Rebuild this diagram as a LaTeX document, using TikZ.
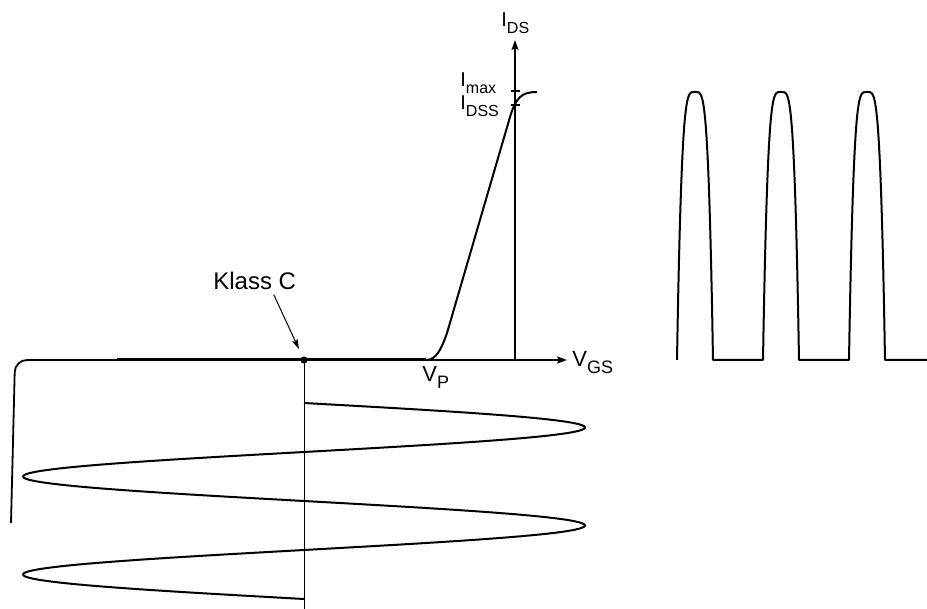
\documentclass[tikz,border=0pt]{standalone}
\usepackage{fontspec}
\setsansfont{Liberation Sans}
\usetikzlibrary{arrows.meta}
\newcommand{\lowsub}[2][8]{\raisebox{-3.5pt}{\fontsize{#1}{#1}\selectfont #2}}

\begin{document}
\begin{tikzpicture}[
	x=0.5pt, y=-0.5pt,
	% Line styles
	axis/.style={
		-{Stealth[length=5pt,width=3.5pt,inset=1pt]},
		line width=0.9pt
	},
	curve/.style={
		line width=1pt,
		line join=round
	},
	thinline/.style={
		line width=0.5pt
	},
	pointer/.style={
		-{Stealth[length=5pt,width=3pt,inset=1pt]},
		line width=0.5pt,
		shorten >=6pt
	},
	% Text styles
	vlabel/.style={
		font=\sffamily\fontsize{11}{13}\selectfont,
		inner sep=0pt,
		anchor=base west
	},
	ilabel/.style={
		font=\sffamily\fontsize{10}{12}\selectfont,
		inner sep=0pt,
		anchor=base west
	},
	note/.style={
		font=\sffamily\fontsize{12}{14}\selectfont,
		inner sep=0pt,
		anchor=base west
	}
	]
	
	\useasboundingbox (0,0) rectangle (927,609);
	
	% Axes
	\coordinate (origin) at (515,360);
	\coordinate (vstart) at (11,523);
	\coordinate (vend) at (567,360);
	\coordinate (iend) at (515,40);
	\coordinate (pinch) at (426,360);
	\coordinate (qpt) at (304,360);
	
	\draw[axis, rounded corners=6pt] (vstart) -- (15,360) -- (vend);
	\draw[axis] (origin) -- (iend);
	
	% Axis labels
	\node[ilabel] (ids) at (501,27) {I\lowsub{DS}};
	\node[ilabel] (imax) at (460,87) {I\lowsub{max}};
	\node[ilabel] (idss) at (460,110) {I\lowsub{DSS}};
	\node[vlabel] (vgs) at (572,367) {V\lowsub[9]{GS}};
	\node[vlabel] (vp) at (422,381) {V\lowsub[9]{P}};
	
	% Ticks for Imax and IDSS
	\draw[curve] (511,91) -- (520,91);
	\draw[curve] (511,105) -- (520,105);
	
	% Transfer characteristic
	\draw[curve, line width=1.5pt] (117,360) -- (pinch);
	\draw[curve] (pinch) .. controls (436,360) and (441,350) .. (447,333)
		-- (510,117) .. controls (516,97) and (522,92) .. (537,92);
	
	% Operating point
	\fill (qpt) circle (1.8pt);
	\node[note] (klassc) at (213,290) {Klass C};
	\draw[pointer] ([xshift=9.5pt,yshift=-2pt]klassc.south) -- (qpt);
	
	% Input signal
	\draw[thinline] (qpt) -- (304,609);
	\draw[curve] plot[domain=403:599, samples=241, variable=\t]
		({304+281*sin(3.6735*(\t-403))}, \t);
	
	% Output current pulses
	\draw[curve] plot[domain=-18:18, samples=61] ({695+\x}, {360-268*(1-(\x*\x/324)^2)})
		-- plot[domain=-18:18, samples=61] ({781+\x}, {360-268*(1-(\x*\x/324)^2)})
		-- plot[domain=-18:18, samples=61] ({867+\x}, {360-268*(1-(\x*\x/324)^2)})
		-- (927,360);
	
\end{tikzpicture}
\end{document}
